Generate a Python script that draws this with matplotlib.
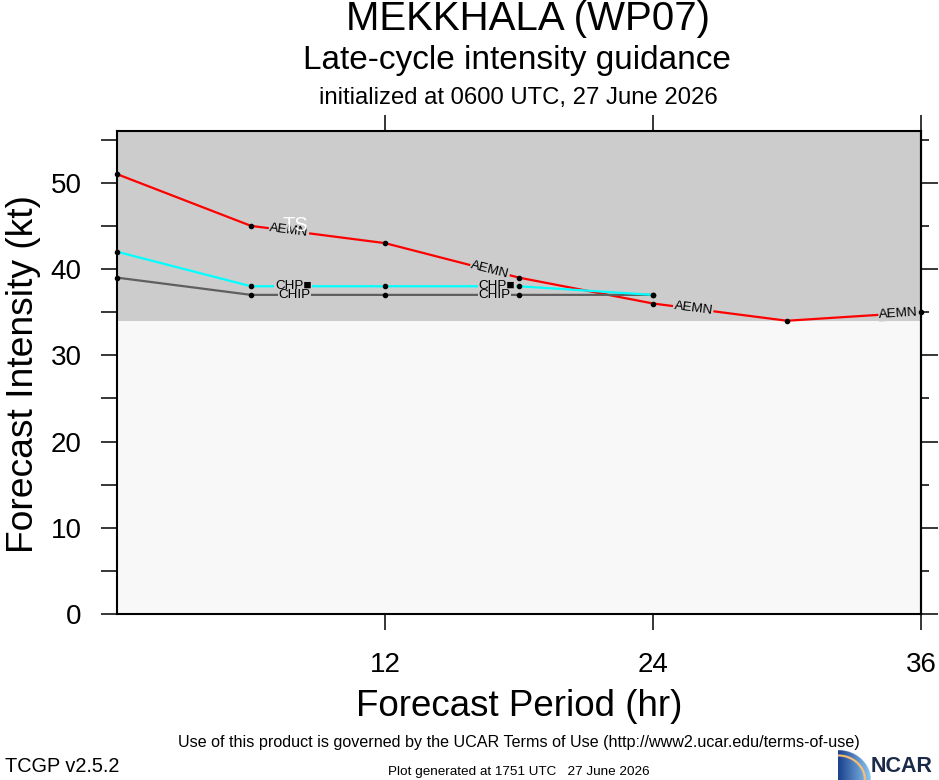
import numpy as np
import matplotlib
matplotlib.use("Agg")
import matplotlib.pyplot as plt
from matplotlib import font_manager
from matplotlib.ticker import MultipleLocator

# ---------------- data ----------------
hours_aemn = [0, 6, 12, 18, 24, 30, 36]
aemn = [51, 45, 43, 39, 36, 34, 35]
hours_chp = [0, 6, 12, 18, 24]
chp5 = [42, 38, 38, 38, 37]
hours_chip = [0, 6, 12, 18, 24]
chip = [39, 37, 37, 37, 37]

ts_threshold = 34
y_max = 56
x_max = 36
x_ticks = [12, 24, 36]
y_ticks = [0, 10, 20, 30, 40, 50]

# positions (hours) of the in-line model labels
aemn_label_hours = [7.7, 16.7, 25.8, 35.0]
chp_label_hours = [7.9, 17.0]
chip_label_hours = [7.95, 16.9]

title = "MEKKHALA (WP07)"
subtitle = "Late-cycle intensity guidance"
init_line = "initialized at 0600 UTC, 27 June 2026"

# ---------------- fonts ----------------
fams = {f.name for f in font_manager.fontManager.ttflist}
has_narrow = "Liberation Sans Narrow" in fams
narrow = "Liberation Sans Narrow" if has_narrow else "Liberation Sans"
plt.rcParams["font.family"] = ["Liberation Sans", "DejaVu Sans"]

W, H = 939, 780
fig = plt.figure(figsize=(W / 100, H / 100), dpi=100)
fig.patch.set_facecolor("white")

def fx(px):
    return px / W

def fy(py):
    return 1 - py / H

ax = fig.add_axes([fx(117), 1 - 614 / H, (921 - 117) / W, (614 - 131) / H])
ax.set_xlim(0, x_max)
ax.set_ylim(0, y_max)

# background bands
ax.axhspan(0, ts_threshold, color="#f8f8f8", zorder=0, lw=0)
ax.axhspan(ts_threshold, y_max, color="#cccccc", zorder=0, lw=0)

# lines
series = [
    (hours_aemn, aemn, "#ff0000", "AEMN", aemn_label_hours),
    (hours_chip, chip, "#5f5f5f", "CHIP", chip_label_hours),
    (hours_chp, chp5, "#00ffff", "CHP\u25a0", chp_label_hours),
]
for xs, ys, col, name, lab_hours in series:
    ax.plot(xs, ys, color=col, lw=1.6, zorder=2, solid_capstyle="butt")

for xs, ys, col, name, lab_hours in series:
    for h in lab_hours:
        yv = float(np.interp(h, xs, ys))
        i = min(np.searchsorted(xs, h, side="right") - 1, len(xs) - 2)
        ang = np.degrees(np.arctan2(ys[i + 1] - ys[i], xs[i + 1] - xs[i]))
        common = dict(ha="center", va="center", rotation=ang,
                      rotation_mode="anchor", transform_rotates_text=True,
                      fontsize=9.7, family=["Liberation Sans", "DejaVu Sans"])
        ax.text(h, yv, name, color="none", zorder=3,
                bbox=dict(facecolor="#cccccc", edgecolor="none", pad=0.6), **common)
        ax.text(h, yv, name, color="black", zorder=4, **common)

for xs, ys, col, name, lab_hours in series:
    ax.plot(xs, ys, ls="none", marker="o", ms=3.0, color="black",
            zorder=5, clip_on=False)

ax.text(8.0, (ts_threshold + y_max) / 2, "TS", color="white", fontsize=14.5,
        ha="center", va="center", zorder=4)

# axes styling
for s in ax.spines.values():
    s.set_linewidth(1.5)
    s.set_zorder(6)

ax.set_xticks(x_ticks)
ax.set_xticklabels([str(t) for t in x_ticks])
ax.tick_params(axis="x", which="major", direction="out", length=11.5, width=1.1,
               top=True, labeltop=False, labelsize=20, pad=16)
ax.set_yticks(y_ticks)
ax.yaxis.set_minor_locator(MultipleLocator(5))
ax.tick_params(axis="y", which="both", direction="out", length=11.5, width=1.1,
               right=False, labelsize=20, pad=14)

sec = ax.secondary_yaxis("right")
sec.set_yticks(y_ticks)
sec.yaxis.set_minor_locator(MultipleLocator(5))
sec.tick_params(which="major", direction="out", length=12.5, width=1.1, labelright=False)
sec.tick_params(which="minor", direction="out", length=6, width=1.1)
sec.spines["right"].set_linewidth(1.5)

# axis labels
fig.text(fx(519), fy(707), "Forecast Period (hr)", fontsize=26.5,
         ha="center", va="center")
fig.text(fx(24), fy(374), "Forecast Intensity (kt)", fontsize=26.8,
         ha="center", va="center", rotation=90)

# titles
fig.text(fx(528), fy(19), title, fontsize=29, ha="center", va="center")
fig.text(fx(517), fy(61), subtitle, fontsize=24, ha="center", va="center")
fig.text(fx(518), fy(98), init_line, fontsize=17.2, ha="center", va="center")

# footer
fig.text(fx(519), fy(743),
         "Use of this product is governed by the UCAR Terms of Use (http://www2.ucar.edu/terms-of-use)",
         fontsize=11.6, ha="center", va="center")
fig.text(fx(5), fy(767), "TCGP v2.5.2", fontsize=14.3, ha="left", va="center")
fig.text(fx(519), fy(772), "Plot generated at 1751 UTC   27 June 2026",
         fontsize=9.7, ha="center", va="center")

# NCAR logo
lax = fig.add_axes([fx(838), 0, 33 / W, 30 / H])
lax.set_axis_off()
n = 120
u, v = np.meshgrid(np.linspace(0, 1, n), np.linspace(1, 0, n))
r = np.sqrt(u ** 2 + v ** 2)
img = np.zeros((n, n, 4))
c0 = np.array([0.10, 0.25, 0.55])
c1 = np.array([0.55, 0.78, 0.95])
t = np.clip(u, 0, 1)[..., None]
img[..., :3] = c0 * (1 - t) + c1 * t
img[..., 3] = (r <= 1.0).astype(float)
arc = (np.abs(r - 0.82) < 0.035)
img[arc, :3] = [0.98, 0.75, 0.45]
img[arc, 3] = 1.0
lax.imshow(img, extent=[0, 1, 0, 1], aspect="auto")
lax.set_xlim(0, 1)
lax.set_ylim(0, 1)
fig.text(fx(871), fy(767), "NCAR", fontsize=19.5 if has_narrow else 15.5,
         fontweight="bold", family=[narrow, "DejaVu Sans"], color="#1b2a48",
         ha="left", va="center")

fig.savefig("out.png", dpi=100)
